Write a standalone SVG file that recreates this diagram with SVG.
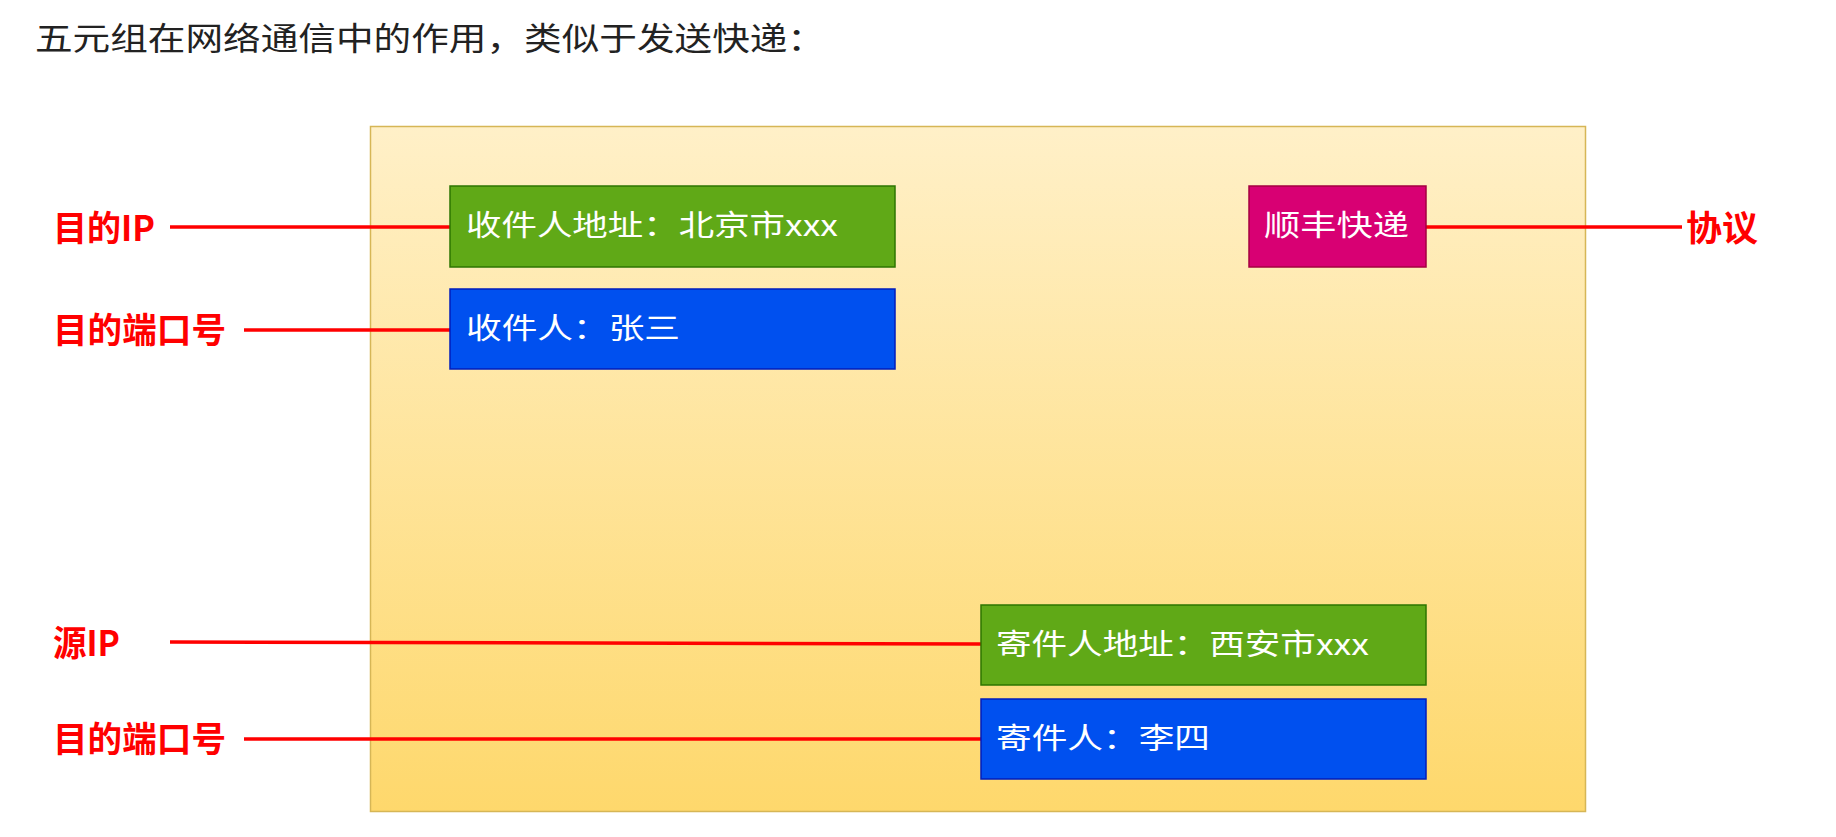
<svg xmlns="http://www.w3.org/2000/svg" width="1836" height="837" viewBox="0 0 1836 837">
<defs>
<linearGradient id="bg" x1="0" y1="0" x2="0" y2="1">
<stop offset="0" stop-color="#fff0c8"/>
<stop offset="1" stop-color="#fed86c"/>
</linearGradient>
</defs>
<style>
.title{font-family:"Noto Sans CJK SC","Noto Sans",sans-serif;font-size:32px;fill:#222}
.lbl{font-family:"Noto Sans CJK SC","Liberation Sans",sans-serif;font-size:35px;font-weight:bold;fill:#ff0000}
.bt{font-family:"Noto Sans CJK SC","Liberation Sans",sans-serif;font-size:29px;fill:#ffffff}
.green{fill:#60a917;stroke:#2d7600;stroke-width:1.5}
.blue{fill:#0050ef;stroke:#001dbc;stroke-width:1.5}
.mag{fill:#d80073;stroke:#a50040;stroke-width:1.5}
.ln{stroke:#ff0000;stroke-width:3.5;fill:none}
</style>
<rect width="1836" height="837" fill="#ffffff"/>
<text class="title" x="35" y="50" textLength="790" lengthAdjust="spacingAndGlyphs">五元组在网络通信中的作用，类似于发送快递：</text>
<g id="envelope">
<rect x="370.5" y="126.5" width="1215" height="685" fill="url(#bg)" stroke="#d6b656" stroke-width="1.5"/>
</g>
<g id="connectors">
<line class="ln" x1="170" y1="227" x2="450" y2="227"/>
<line class="ln" x1="244" y1="330" x2="450" y2="330"/>
<line class="ln" x1="170" y1="642" x2="981" y2="644"/>
<line class="ln" x1="244" y1="739" x2="981" y2="739"/>
<line class="ln" x1="1426" y1="227" x2="1682" y2="227"/>
</g>
<g id="recv-addr">
<rect class="green" x="450" y="186" width="445" height="81"/>
<text class="bt" x="466" y="236" textLength="372" lengthAdjust="spacingAndGlyphs">收件人地址：北京市xxx</text>
</g>
<g id="recv-name">
<rect class="blue" x="450" y="289" width="445" height="80"/>
<text class="bt" x="466" y="339" textLength="214" lengthAdjust="spacingAndGlyphs">收件人：张三</text>
</g>
<g id="protocol">
<rect class="mag" x="1249" y="186" width="177" height="81"/>
<text class="bt" x="1264" y="236" textLength="145" lengthAdjust="spacingAndGlyphs">顺丰快递</text>
</g>
<g id="send-addr">
<rect class="green" x="981" y="605" width="445" height="80"/>
<text class="bt" x="996" y="655" textLength="373" lengthAdjust="spacingAndGlyphs">寄件人地址：西安市xxx</text>
</g>
<g id="send-name">
<rect class="blue" x="981" y="699" width="445" height="80"/>
<text class="bt" x="996" y="749" textLength="214" lengthAdjust="spacingAndGlyphs">寄件人：李四</text>
</g>
<g id="label-dst-ip"><text class="lbl" x="53" y="241" textLength="102" lengthAdjust="spacingAndGlyphs">目的IP</text></g>
<g id="label-dst-port"><text class="lbl" x="53" y="343" textLength="173" lengthAdjust="spacingAndGlyphs">目的端口号</text></g>
<g id="label-src-ip"><text class="lbl" x="53" y="656" textLength="67" lengthAdjust="spacingAndGlyphs">源IP</text></g>
<g id="label-port2"><text class="lbl" x="53" y="752" textLength="173" lengthAdjust="spacingAndGlyphs">目的端口号</text></g>
<g id="label-proto"><text class="lbl" x="1686" y="241" textLength="72" lengthAdjust="spacingAndGlyphs">协议</text></g>
</svg>
